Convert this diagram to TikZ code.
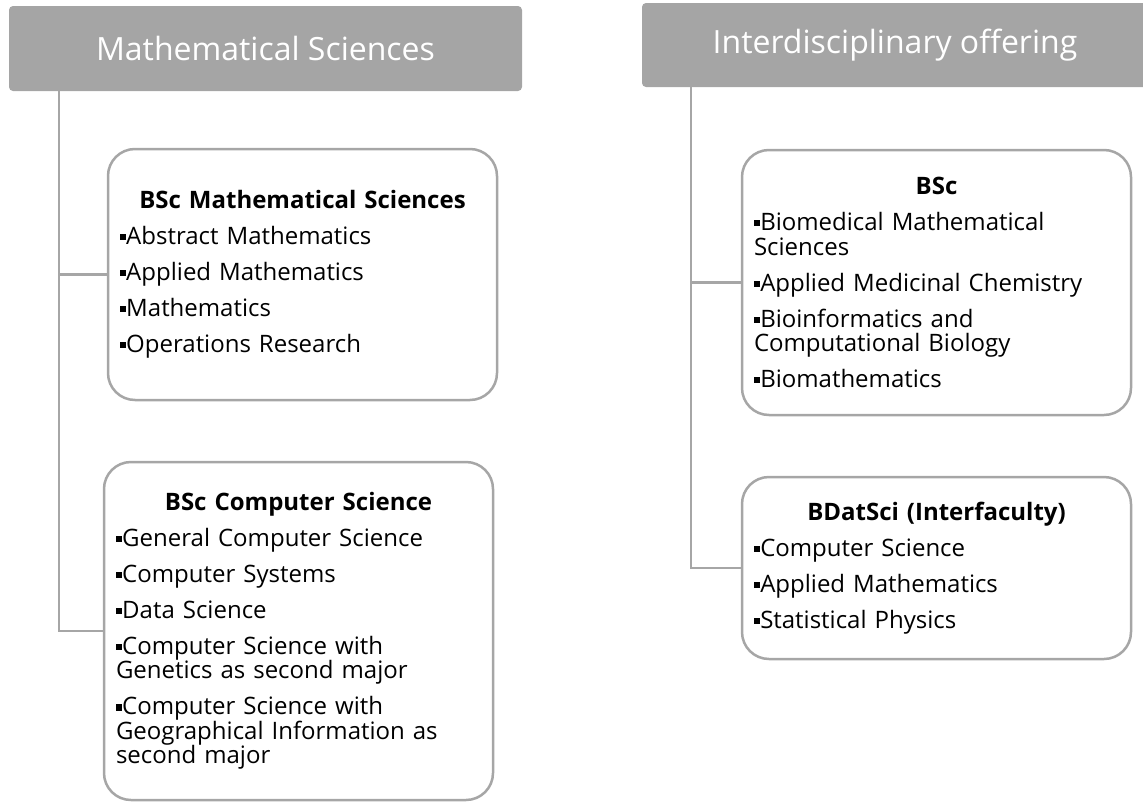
\documentclass[tikz,border=0pt]{standalone}
\usepackage{fontspec}
\setmainfont{Open Sans}
\usetikzlibrary{positioning}
\definecolor{headgray}{HTML}{A5A5A5}
\definecolor{linegray}{HTML}{A6A6A6}
\newcommand{\sqbul}{\raisebox{0.18em}{\rule{0.26em}{0.26em}}}
\newcommand{\itm}{\par\vspace{11.5pt}\noindent\sqbul}
\newcommand{\boxtitle}[1]{{\centering\bfseries #1\par}}
\tikzset{
	head/.style={fill=headgray, rounded corners=4pt, text=white, inner sep=0pt, font=\fontsize{32}{34}\selectfont},
	progbox/.style={draw=linegray, line width=2.5pt, rounded corners=27pt, text width=365pt, inner xsep=12pt, inner ysep=0pt, align=left, font=\fontsize{24}{24.5}\selectfont},
	trunk/.style={draw=linegray, line width=2.5pt}
}
\begin{document}
\begin{tikzpicture}[x=1pt,y=-1pt]
		\useasboundingbox (0,0) rectangle (1143,803);
		% headers
		\node [head, minimum width=513pt, minimum height=85pt] at (265.5,48.5) (mhead) {Mathematical Sciences};
		\node [head, minimum width=506pt, minimum height=84pt] at (895,45) (ihead) {Interdisciplinary offering};
		% programme boxes
		\node [progbox, minimum height=251pt] at (302.5,274.5) (bmath) {\boxtitle{BSc Mathematical Sciences}\itm Abstract Mathematics\itm Applied Mathematics\itm Mathematics\itm Operations Research};
		\node [progbox, minimum height=338pt] at (298.5,631) (bcs) {\boxtitle{BSc Computer Science}\itm General Computer Science\itm Computer Systems\itm Data Science\itm Computer Science with\\Genetics as second major\itm Computer Science with\\Geographical Information as\\second major};
		\node [progbox, minimum height=265pt] at (936.5,282.5) (bsc) {\boxtitle{BSc}\itm Biomedical Mathematical\\Sciences\itm Applied Medicinal Chemistry\itm Bioinformatics and\\Computational Biology\itm Biomathematics};
		\node [progbox, minimum height=182pt] at (936.5,568) (bdat) {\boxtitle{BDatSci (Interfaculty)}\itm Computer Science\itm Applied Mathematics\itm Statistical Physics};
		% connectors
		\coordinate (mroot) at (mhead.south -| 59,0);
		\coordinate (iroot) at (ihead.south -| 691,0);
		\foreach \r/\b in {mroot/bmath, mroot/bcs, iroot/bsc, iroot/bdat}
			\path [trunk] (\r) |- (\b.west);
\end{tikzpicture}
\end{document}
